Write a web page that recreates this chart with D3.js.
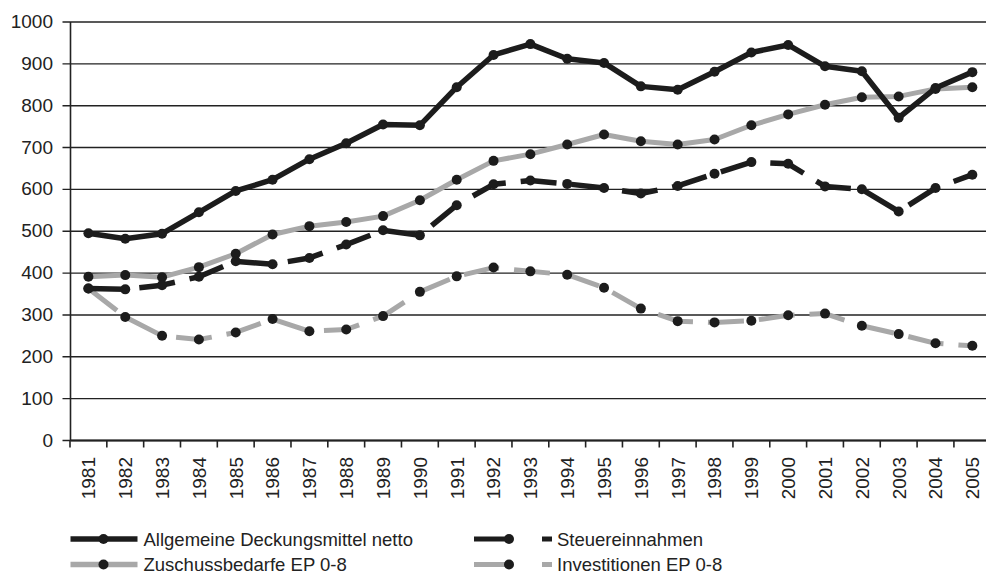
<!DOCTYPE html>
<html>
<head>
<meta charset="utf-8">
<script src="https://cdn.jsdelivr.net/npm/d3@7"></script>
<style>
  body { margin: 0; background: #fff; }
  svg { display: block; font-family: "Liberation Sans", Arial, sans-serif; }
</style>
</head>
<body>
<div id="chart"></div>
<script>
// data
const years = ["1981","1982","1983","1984","1985","1986","1987","1988","1989","1990","1991","1992","1993",
               "1994","1995","1996","1997","1998","1999","2000","2001","2002","2003","2004","2005"];
const deckungsmittel = [494,481,493,544,595,622,671,709,754,752,843,920,946,911,901,845,837,880,926,944,893,881,770,841,879];
const steuer = [362,360,370,390,427,420,435,467,501,489,561,611,620,612,602,589,607,636,664,660,606,599,546,602,634];
const zuschuss = [390,394,389,413,445,491,511,521,535,573,622,667,683,706,730,714,706,718,752,778,801,819,821,839,843];
const invest = [362,294,249,240,257,289,260,264,296,354,391,412,403,395,364,314,284,281,285,298,302,273,253,231,225];
const yTicks = [0,100,200,300,400,500,600,700,800,900,1000];

const BLACK = "#1c1c1c", GREY = "#a8a8a8";
const series = [
  {name: "Allgemeine Deckungsmittel netto", values: deckungsmittel, color: BLACK, dash: null},
  {name: "Steuereinnahmen", values: steuer, color: BLACK, dash: "36,15"},
  {name: "Zuschussbedarfe EP 0-8", values: zuschuss, color: GREY, dash: null},
  {name: "Investitionen EP 0-8", values: invest, color: GREY, dash: "36,15"}
];

const width = 986, height = 575;
const plotLeft = 70, plotTop = 21.5, plotBottom = 440;
const plotRight = plotLeft + 25 * 36.83;

const svg = d3.select("#chart").append("svg").attr("width", width).attr("height", height);

const x = d3.scaleBand().domain(years).range([plotLeft, plotRight]).padding(0);
const y = d3.scaleLinear().domain([0, 1000]).range([plotBottom, plotTop]);

// y axis + gridlines
const yAxis = svg.append("g").attr("transform", `translate(${plotLeft},0)`)
  .call(d3.axisLeft(y).tickValues(yTicks).tickFormat(d3.format("d"))
    .tickSizeInner(-(plotRight - plotLeft)).tickSizeOuter(0).tickPadding(17));
yAxis.select(".domain").attr("stroke", "#222").attr("stroke-width", 1.6);
yAxis.selectAll(".tick line").attr("x1", -7.5).attr("stroke", "#222").attr("stroke-width", 1.4);
yAxis.selectAll(".tick text").attr("font-size", 19).attr("fill", "#222").attr("font-family", "Liberation Sans, Arial, sans-serif");

// x axis: ticks between categories, labels rotated
const xAxis = svg.append("g").attr("transform", `translate(0,${plotBottom})`)
  .call(d3.axisBottom(x).tickSize(0).tickPadding(0));
xAxis.select(".domain").attr("stroke", "#222").attr("stroke-width", 1.8);
xAxis.selectAll(".tick text")
  .attr("font-size", 19).attr("fill", "#222").attr("font-family", "Liberation Sans, Arial, sans-serif")
  .attr("transform", "rotate(-90)")
  .attr("text-anchor", "end")
  .attr("x", -17).attr("y", 0).attr("dy", "0.36em");
const edges = years.map(d => x(d)).concat([plotRight]);
xAxis.selectAll("line.edge").data(edges).enter().append("line")
  .attr("class", "edge")
  .attr("x1", d => d).attr("x2", d => d).attr("y1", 0).attr("y2", 7.5)
  .attr("stroke", "#222").attr("stroke-width", 1.6);

// lines
const line = d3.line()
  .x((d, i) => x(years[i]) + x.bandwidth() / 2)
  .y(d => y(d));

const drawOrder = [series[3], series[2], series[1], series[0]];
drawOrder.forEach(s => {
  svg.append("path").datum(s.values)
    .attr("d", line)
    .attr("fill", "none")
    .attr("stroke", s.color)
    .attr("stroke-width", s.color === BLACK ? 5.5 : 5)
    .attr("stroke-dasharray", s.dash)
    .attr("stroke-linejoin", "round");
  svg.append("g").selectAll("circle").data(s.values).enter().append("circle")
    .attr("cx", (d, i) => x(years[i]) + x.bandwidth() / 2)
    .attr("cy", d => y(d))
    .attr("r", 5)
    .attr("fill", BLACK);
});

// legend
const legendPos = [
  {lx: 70.5, ly: 539}, {lx: 474, ly: 539},
  {lx: 70.5, ly: 564.5}, {lx: 474, ly: 564.5}
];
series.forEach((s, i) => {
  const p = legendPos[i];
  const g = svg.append("g").attr("transform", `translate(${p.lx},${p.ly})`);
  if (s.dash) {
    g.append("line").attr("x1", 0).attr("x2", 78).attr("y1", 0).attr("y2", 0)
      .attr("stroke", s.color).attr("stroke-width", 5).attr("stroke-dasharray", "39,29");
    g.append("circle").attr("cx", 35).attr("cy", 0).attr("r", 5).attr("fill", BLACK);
    g.append("text").attr("x", 83).attr("y", 0).attr("dy", "0.36em")
      .attr("font-size", 18.5).attr("fill", "#222").text(s.name);
  } else {
    g.append("line").attr("x1", 0).attr("x2", 67).attr("y1", 0).attr("y2", 0)
      .attr("stroke", s.color).attr("stroke-width", 5.5);
    g.append("circle").attr("cx", 33).attr("cy", 0).attr("r", 5).attr("fill", BLACK);
    g.append("text").attr("x", 73).attr("y", 0).attr("dy", "0.36em")
      .attr("font-size", 18.5).attr("fill", "#222").text(s.name);
  }
});
</script>
</body>
</html>
